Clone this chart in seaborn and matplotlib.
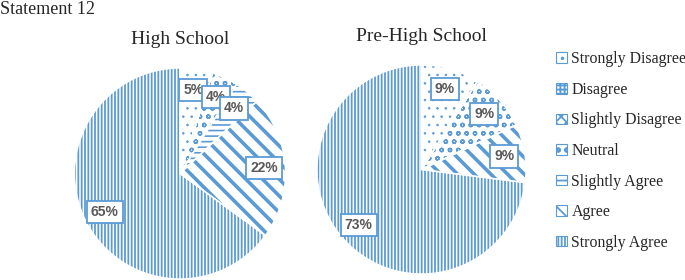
"""
Statement 12 — High School vs Pre-High School (hatched pies)
"""

import matplotlib
matplotlib.use("Agg")
import matplotlib.pyplot as plt
from matplotlib.patches import Patch
import seaborn as sns

# ── data ─────────────────────────────────────────────────────
CATEGORIES = ["Strongly Disagree", "Disagree", "Slightly Disagree", "Neutral",
              "Slightly Agree", "Agree", "Strongly Agree"]
HIGH_SCHOOL = [5, 0, 0, 4, 4, 22, 65]
PRE_HIGH_SCHOOL = [9, 0, 0, 9, 0, 9, 73]
GROUPS = ["High School", "Pre-High School"]
SUPTITLE = "Statement 12"

# ── style ────────────────────────────────────────────────────
BLUE = "#5B9BD5"
HATCHES = ["..", "++++", "xxx", "oo", "---", "\\\\", "|||||"]
HATCH_LW = [0.6, 1.0, 1.0, 1.0, 1.2, 2.6, 1.3]

sns.set_theme(style="white")
plt.rcParams.update({
    "hatch.linewidth": 1.3,
    "font.family": ["Liberation Serif", "DejaVu Serif"],
})


def style_hatch(patch, hatch, lw):
    patch.set_hatch(hatch)
    if hasattr(patch, "set_hatch_linewidth"):
        patch.set_hatch_linewidth(lw)


def draw_pie(ax, values, title):
    wedges, _, autotexts = ax.pie(
        values, startangle=90, counterclock=False, radius=1,
        colors=["white"] * len(values),
        autopct=lambda p: f"{p:.0f}%" if p > 0.5 else "",
        pctdistance=0.8,
        wedgeprops={"linewidth": 0, "edgecolor": BLUE},
    )
    for w, h, lw in zip(wedges, HATCHES, HATCH_LW):
        style_hatch(w, h, lw)
    # thin white slice borders on top
    ax.pie(values, startangle=90, counterclock=False, radius=1,
           colors=["none"] * len(values),
           wedgeprops={"linewidth": 1.0, "edgecolor": "white", "fill": False})
    for t in autotexts:
        t.set_fontfamily(["Liberation Sans", "DejaVu Sans"])
        t.set_fontweight("bold")
        t.set_fontsize(10)
        t.set_color("#595959")
        t.set_bbox({"boxstyle": "square,pad=0.3", "facecolor": "white",
                    "edgecolor": BLUE, "linewidth": 1.3})
    ax.set_xlim(-1, 1)
    ax.set_ylim(-1, 1)
    ax.set_aspect("equal")
    ax.set_title(title, fontsize=14, pad=17)
    return wedges


fig = plt.figure(figsize=(6.85, 2.8), dpi=100)
W, H = 685, 280
for cx, cy, r, vals, title in [(180, 173.5, 105.5, HIGH_SCHOOL, GROUPS[0]),
                               (421.5, 169.5, 104.5, PRE_HIGH_SCHOOL, GROUPS[1])]:
    ax = fig.add_axes([(cx - r) / W, (H - cy - r) / H, 2 * r / W, 2 * r / H])
    draw_pie(ax, vals, title)
    ax.axis("off")

fig.text(0.0, 1 - 9 / H, SUPTITLE, fontsize=13, va="center", ha="left")

handles = []
for h, lw in zip(HATCHES, HATCH_LW):
    p = Patch(facecolor="white", edgecolor=BLUE, linewidth=0.8)
    style_hatch(p, h, lw)
    handles.append(p)
fig.legend(handles, CATEGORIES, loc="upper left",
           bbox_to_anchor=(550 / W, 1 - 45 / H), frameon=False,
           fontsize=11.4, handlelength=0.65, handleheight=0.65,
           handletextpad=0.3, labelspacing=0.92, borderaxespad=0)

fig.savefig("out.png", dpi=100)
plt.close(fig)
